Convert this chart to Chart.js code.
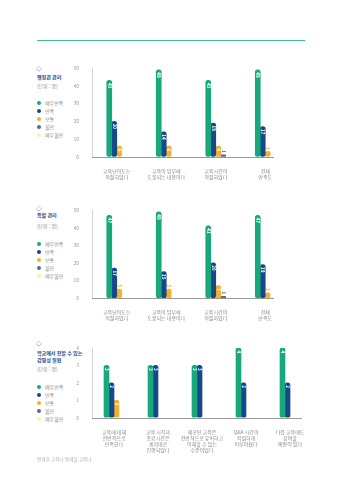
<!DOCTYPE html>
<html lang="ko">
<head>
<meta charset="UTF-8">
<title>교육 만족도</title>
<script src="https://cdn.jsdelivr.net/npm/chart.js@4"></script>
<style>
  body { margin:0; width:351px; height:480px; background:#fff; position:relative; overflow:hidden;
         font-family:"Noto Sans CJK KR","Noto Sans",sans-serif; }
  .topline { position:absolute; left:37px; top:40px; width:268px; height:1px; background:#3dbf94; }
  canvas { position:absolute; }
  .dia { position:absolute; left:36px; font-size:5.5px; color:#1e4d8c; line-height:6px; }
  .ttl { position:absolute; left:37px; font-size:5.1px; font-weight:bold; color:#1e4d8c; line-height:6.5px; letter-spacing:-0.1px; }
  .unit { position:absolute; left:37px; font-size:4.8px; color:#8a8a8a; }
  .leg { position:absolute; left:37px; font-size:5px; color:#8a8a8a; line-height:6px; }
  .leg i { display:inline-block; width:4px; height:4px; border-radius:50%; margin-right:4px; vertical-align:0; }
  .foot { position:absolute; left:37px; top:456px; font-size:4.6px; color:#b0b0b0; }
</style>
</head>
<body>
<div class="topline"></div>

<div class="dia" style="top:66px">◇</div>
<div class="ttl" style="top:74px">행정관 관리</div>
<div class="unit" style="top:82px">(단위 : 명)</div>
<div id="leg1"></div>
<canvas id="c1" width="220" height="120" style="left:70px;top:60px;width:220px;height:120px"></canvas>

<div class="dia" style="top:206px">◇</div>
<div class="ttl" style="top:212px">특활 관리</div>
<div class="unit" style="top:222px">(단위 : 명)</div>
<div id="leg2"></div>
<canvas id="c2" width="220" height="120" style="left:70px;top:202px;width:220px;height:120px"></canvas>

<div class="dia" style="top:341px">◇</div>
<div class="ttl" style="top:350px">학교에서 전할 수 있는<br>감염성 질환</div>
<div class="unit" style="top:365px">(단위 : 명)</div>
<div id="leg3"></div>
<canvas id="c3" width="242" height="120" style="left:70px;top:340px;width:242px;height:120px"></canvas>

<div class="foot">함께한 교육나 함께할 교육나</div>

<script>
    // 데이터
    let legendLabels = ['매우만족', '만족', '보통', '불만', '매우불만'];
    let couleurs = ['#17a97b', '#17498a', '#f4b22a', '#5b6b82', '#fdf0b4'];

    let categories1 = [['교육난이도는', '적절하였다'], ['교육이 업무에', '도움되는 내용이다'], ['교육시간이', '적절하였다'], ['전체', '만족도']];
    let tresSatisfait1 = [43, 49, 43, 49];
    let satisfait1 = [20, 14, 19, 17];
    let moyen1 = [6, 6, 6, 3];
    let insatisfait1 = [0, 0, 1, 0];
    let ticks1 = [0, 10, 20, 30, 40, 50];

    let categories2 = [['교육난이도는', '적절하였다'], ['교육이 업무에', '도움되는 내용이다'], ['교육시간이', '적절하였다'], ['전체', '만족도']];
    let tresSatisfait2 = [47, 49, 41, 47];
    let satisfait2 = [17, 15, 20, 19];
    let moyen2 = [5, 5, 7, 3];
    let insatisfait2 = [0, 0, 1, 0];
    let ticks2 = [0, 10, 20, 30, 40, 50];

    let categories3 = [['교육에 대해', '전반적으로', '만족한다'], ['교육 시작과', '종료시간은', '계획대로', '진행되었다'],
        ['제공된 교육은', '전반적으로 유익하고', '이해할 수 있는', '수준이었다'], ['Q&A 시간이', '적절하게', '이루어졌다'], ['다음 교육에도', '참여할', '의향이 있다']];
    let tresSatisfait3 = [3, 3, 3, 4, 4];
    let satisfait3 = [2, 3, 3, 2, 2];
    let moyen3 = [1, 0, 0, 0, 0];
    let insatisfait3 = [0, 0, 0, 0, 0];
    let ticks3 = [0, 1, 2, 3, 4];

    let fontKr = '"Noto Sans CJK KR", "Noto Sans", sans-serif';

    // Légendes
    let faitLegende = (id, tops) => {
        let html = '';
        legendLabels.forEach((lab, i) => {
            html += `<div class="leg" style="top:${tops[i]}px"><i style="background:${couleurs[i]}"></i>${lab}</div>`;
        });
        document.getElementById(id).innerHTML = html;
    };
    faitLegende('leg1', [100, 108, 116, 124, 132]);
    faitLegende('leg2', [241, 249, 257, 265, 273]);
    faitLegende('leg3', [384, 392, 400, 408, 416]);

    // valeurs dans les barres
    let etiquettes = {
        id: 'etiquettes',
        afterDatasetsDraw(chart) {
            let ctx = chart.ctx;
            chart.data.datasets.forEach((ds, di) => {
                let meta = chart.getDatasetMeta(di);
                meta.data.forEach((bar, i) => {
                    let v = ds.data[i];
                    if (!v) return;
                    let h = bar.base - bar.y;
                    ctx.save();
                    ctx.font = 'bold 4.5px ' + fontKr;
                    ctx.textBaseline = 'middle';
                    if (h > 9) {
                        ctx.translate(bar.x, bar.y + 2.5);
                        ctx.rotate(Math.PI / 2);
                        ctx.textAlign = 'left';
                        ctx.fillStyle = '#fff';
                    } else {
                        ctx.translate(bar.x, bar.y - 2);
                        ctx.rotate(Math.PI / 2);
                        ctx.textAlign = 'right';
                        ctx.fillStyle = ds.backgroundColor;
                    }
                    ctx.fillText(String(v), 0, 0);
                    ctx.restore();
                });
            });
        }
    };

    // ligne de l'axe x
    let ligneAxe = {
        id: 'ligneAxe',
        afterDraw(chart, args, opts) {
            let ctx = chart.ctx;
            let a = chart.chartArea;
            ctx.save();
            ctx.strokeStyle = '#9a9a9a';
            ctx.lineWidth = 1;
            ctx.beginPath();
            ctx.moveTo(a.left, Math.round(a.bottom) + 0.5);
            ctx.lineTo(a.right - opts.retrait, Math.round(a.bottom) + 0.5);
            ctx.stroke();
            ctx.restore();
        }
    };

    let faitGraphe = (id, cats, series, ticks, xHeight, catPct, retrait) => {
        let ctx = document.getElementById(id).getContext('2d');
        return new Chart(ctx, {
            type: 'bar',
            data: {
                labels: cats,
                datasets: series.map((s, i) => ({
                    label: legendLabels[i],
                    data: s.map(v => v || null),
                    backgroundColor: couleurs[i],
                    barThickness: 5,
                    borderRadius: 3,
                    borderSkipped: false,
                    categoryPercentage: catPct,
                    barPercentage: 1
                }))
            },
            options: {
                responsive: false,
                animation: false,
                layout: { padding: { top: 7, right: 0, left: 0, bottom: 0 } },
                plugins: { legend: { display: false }, tooltip: { enabled: false }, ligneAxe: { retrait: retrait } },
                scales: {
                    x: {
                        grid: { display: false },
                        border: { display: false },
                        ticks: { color: '#8a8a8a', font: { size: 5, family: fontKr }, padding: 3, maxRotation: 0, autoSkip: false },
                        afterFit: s => { s.height = xHeight; }
                    },
                    y: {
                        min: ticks[0],
                        max: ticks[ticks.length - 1],
                        grid: { display: false },
                        border: { display: true, color: '#d5d5d5', width: 1 },
                        afterBuildTicks: s => { s.ticks = ticks.map(v => ({ value: v })); },
                        ticks: { color: '#9a9a9a', font: { size: 5, family: fontKr }, padding: 5 },
                        afterFit: s => { s.width = 22; }
                    }
                }
            },
            plugins: [etiquettes, ligneAxe]
        });
    };

    faitGraphe('c1', categories1, [tresSatisfait1, satisfait1, moyen1, insatisfait1], ticks1, 23.3, 0.47, 16);
    faitGraphe('c2', categories2, [tresSatisfait2, satisfait2, moyen2, insatisfait2], ticks2, 24, 0.47, 16);
    faitGraphe('c3', categories3, [tresSatisfait3, satisfait3, moyen3, insatisfait3], ticks3, 42.4, 0.55, 10);
</script>
</body>
</html>
